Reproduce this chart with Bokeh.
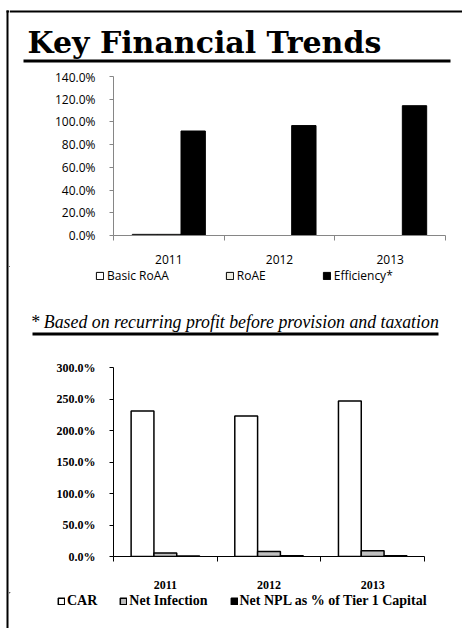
from bokeh.plotting import figure
from bokeh.models import Range1d, FixedTicker, Legend, LegendItem, ColumnDataSource
from bokeh.layouts import column, row
from bokeh.embed import file_html
from bokeh.resources import INLINE
from bokeh.transform import dodge
from bokeh.core.properties import value

# ---------------- data ----------------
years = ["2011", "2012", "2013"]
basic_roaa = [1.0, 0.0, 0.0]
roae = [1.0, 0.0, 0.0]
efficiency = [92.0, 96.8, 114.3]
top_ticks = [0, 20, 40, 60, 80, 100, 120, 140]
top_series = ["Basic RoAA", "RoAE", "Efficiency*"]

car = [230.9, 223.0, 246.7]
net_infection = [5.5, 7.9, 9.0]
net_npl_tier1 = [0.8, 1.0, 1.0]
bottom_ticks = [0, 50, 100, 150, 200, 250, 300]
bottom_series = ["CAR", "Net Infection", "Net NPL as % of Tier 1 Capital"]

title_text = "Key Financial Trends"
footnote_text = "* Based on recurring profit before provision and taxation"

BORDER_W = 9
CW = 453          # content width (page x 9..462)
TOTAL_H = 628
centers = [i + 0.5 for i in range(len(years))]
bw = 0.22


def blank(w, h):
    p = figure(width=w, height=h, x_range=Range1d(0, w), y_range=Range1d(h, 0),
               x_axis_type=None, y_axis_type=None, output_backend="svg",
               toolbar_location=None, min_border=0, frame_align=False)
    p.outline_line_color = None
    p.xgrid.visible = False
    p.ygrid.visible = False
    return p


def style_axes(p, ticks, font, size, style, axis_color, x_standoff, y_standoff):
    p.xgrid.visible = False
    p.ygrid.visible = False
    p.outline_line_color = None
    xa = p.xaxis[0]
    xa.ticker = FixedTicker(ticks=centers, minor_ticks=list(range(len(years) + 1)))
    xa.major_label_overrides = {c: y for c, y in zip(centers, years)}
    xa.major_tick_line_color = None
    xa.major_tick_out = 0
    xa.major_tick_in = 0
    xa.minor_tick_line_color = axis_color
    xa.minor_tick_out = 5
    xa.minor_tick_in = 0
    xa.axis_line_color = axis_color
    xa.major_label_standoff = x_standoff
    ya = p.yaxis[0]
    ya.ticker = FixedTicker(ticks=ticks)
    ya.major_label_overrides = {t: f"{t:.1f}%" for t in ticks}
    ya.major_tick_out = 4
    ya.major_tick_in = 0
    ya.minor_tick_line_color = None
    ya.major_tick_line_color = axis_color
    ya.axis_line_color = axis_color
    ya.major_label_standoff = y_standoff
    for a in (xa, ya):
        a.major_label_text_font = font
        a.major_label_text_font_size = size
        a.major_label_text_font_style = style
        a.major_label_text_color = "black"


# ---------------- left border ----------------
pBorder = blank(BORDER_W, TOTAL_H)
pBorder.segment(x0=[7], y0=[10], x1=[7], y1=[TOTAL_H], line_width=2, line_color="black")
pBorder.segment(x0=[6], y0=[11], x1=[BORDER_W], y1=[11], line_width=2, line_color="black")

# ---------------- title block ----------------
pT = blank(CW, 68)
pT.segment(x0=[0], y0=[11], x1=[CW], y1=[11], line_width=2, line_color="black")
pT.text(x=[18], y=[42], text=[title_text], text_font=value("DejaVu Serif"),
        text_font_style=value("bold"), text_font_size=value("30px"),
        text_baseline=value("alphabetic"), text_color="black")
pT.segment(x0=[14], y0=[60.5], x1=[441], y1=[60.5], line_width=3, line_color="black")

# ---------------- chart 1 ----------------
srcA = ColumnDataSource(dict(x=centers, roaa=basic_roaa, roae=roae, eff=efficiency))
pA = figure(width=CW, height=198, x_range=Range1d(0, 3), y_range=Range1d(0, 140),
            output_backend="svg", toolbar_location=None, frame_align=False,
            min_border_left=104, min_border_right=17, min_border_top=8,
            min_border_bottom=31)
style_axes(pA, top_ticks, "Open Sans", "12px", "normal", "#868686", 14, 14)
styleA = [dict(fill_color="white", line_color="black"),
          dict(fill_color="#EEECE1", line_color="black"),
          dict(fill_color="black", line_color="black")]
for col, off, st in zip(["roaa", "roae", "eff"], [-bw, 0, bw], styleA):
    pA.vbar(x=dodge("x", off, range=pA.x_range), top=col, width=bw, source=srcA,
            line_width=1, **st)

# ---------------- legend 1 + footnote ----------------
LFH = 70
pLF = blank(CW, LFH)
itemsA = []
for name, st in zip(top_series, styleA):
    r = pLF.vbar(x=[-50], top=[-50], bottom=[-60], width=1, line_width=1, **st)
    itemsA.append(LegendItem(label=name, renderers=[r]))
legA = Legend(items=itemsA, orientation="horizontal", location=(86, LFH - 18),
              border_line_color=None, background_fill_alpha=0, padding=0, margin=0,
              spacing=56, glyph_width=9, glyph_height=9, label_standoff=3,
              label_text_font="Open Sans", label_text_font_size="12px",
              label_text_color="black", label_height=12)
pLF.add_layout(legA)
pLF.text(x=[21], y=[55], text=[footnote_text], text_font=value("Liberation Serif"),
         text_font_style=value("italic"), text_font_size=value("17.8px"),
         text_baseline=value("alphabetic"), text_color="black")
pLF.segment(x0=[23], y0=[67.5], x1=[429], y1=[67.5], line_width=3, line_color="black")

# ---------------- chart 2 ----------------
srcB = ColumnDataSource(dict(x=centers, car=car, inf=net_infection, npl=net_npl_tier1))
pB = figure(width=CW, height=256, x_range=Range1d(0, 3), y_range=Range1d(0, 300),
            output_backend="svg", toolbar_location=None, frame_align=False,
            min_border_left=104, min_border_right=38, min_border_top=31,
            min_border_bottom=36)
style_axes(pB, bottom_ticks, "Liberation Serif", "12px", "bold", "black", 19, 14)
styleB = [dict(fill_color="white", line_color="black"),
          dict(fill_color="#C0C0C0", line_color="black"),
          dict(fill_color="black", line_color="black")]
for col, off, st in zip(["car", "inf", "npl"], [-bw, 0, bw], styleB):
    pB.vbar(x=dodge("x", off, range=pB.x_range), top=col, width=bw, source=srcB,
            line_width=1.5, **st)

# ---------------- legend 2 ----------------
L2H = 36
pL2 = blank(CW, L2H)
itemsB = []
for name, st in zip(bottom_series, styleB):
    r = pL2.vbar(x=[-50], top=[-50], bottom=[-60], width=1, line_width=1.5, **st)
    itemsB.append(LegendItem(label=name, renderers=[r]))
legB = Legend(items=itemsB, orientation="horizontal", location=(48, L2H - 17),
              border_line_color=None, background_fill_alpha=0, padding=0, margin=0,
              spacing=22, glyph_width=8, glyph_height=8, label_standoff=2,
              label_text_font="Liberation Serif", label_text_font_style="bold",
              label_text_font_size="14px", label_text_color="black",
              label_height=14)
pL2.add_layout(legB)

content = column(pT, pA, pLF, pB, pL2, spacing=0)
layout = row(pBorder, content, spacing=0)
open("out.html", "w").write(file_html(layout, INLINE))
